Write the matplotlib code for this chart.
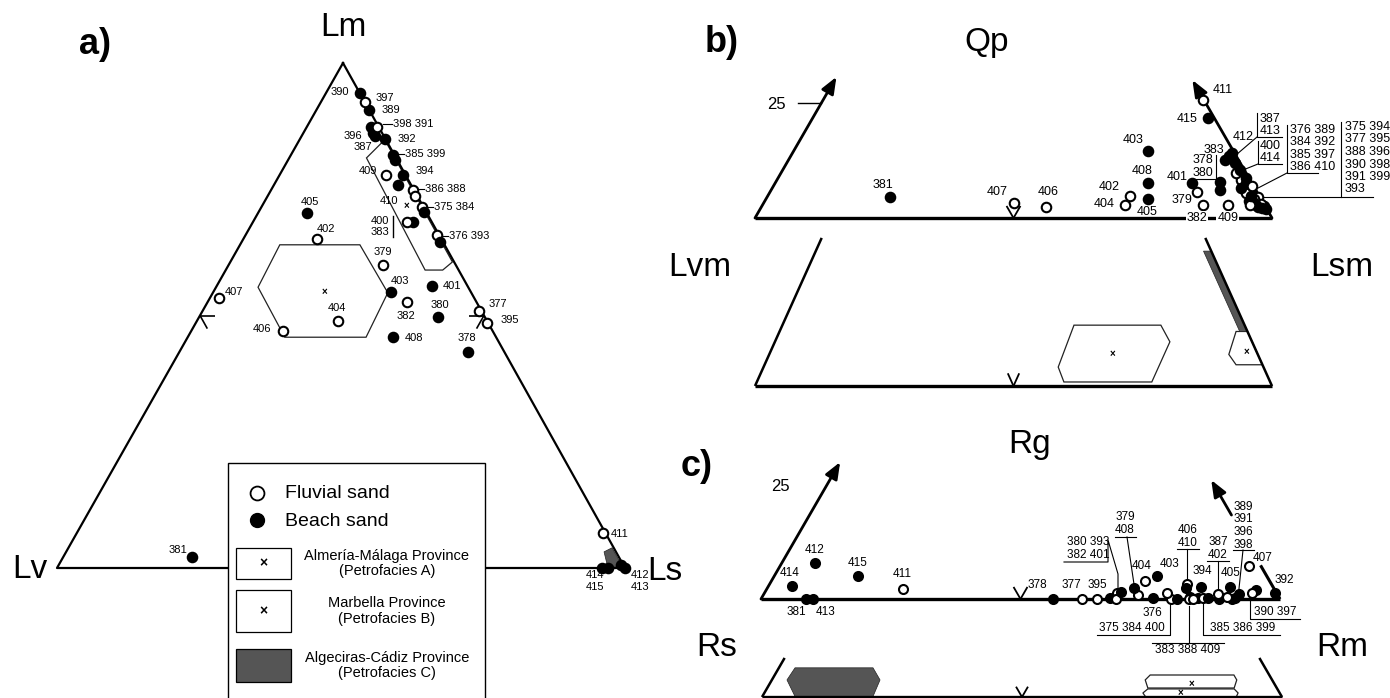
import matplotlib
matplotlib.use('Agg')
import numpy as np
import matplotlib.pyplot as plt
from matplotlib.patches import Polygon, Rectangle

plt.rcParams['font.family'] = ['Liberation Sans', 'DejaVu Sans']

# ---------------- data ----------------
samples = list(range(375, 416))
fluvial = [375, 376, 377, 379, 382, 386, 388, 395, 397, 398, 400, 402, 404, 406, 407, 409, 411]

# a) Lm-Lv-Ls  (percent Lm, percent Ls; Lv = rest)
a_lm = [71.5, 65.9, 50.9, 42.8, 60.0, 49.7, 2.2, 52.7, 68.5, 70.5, 81.8, 74.9, 85.5, 73.7,
        90.7, 94.1, 87.3, 85.0, 64.6, 77.8, 48.5, 86.1, 92.3, 87.3, 80.8, 68.5, 55.8, 65.1,
        54.7, 48.9, 70.3, 46.9, 53.5, 45.7, 77.8, 75.8, 6.9, 0.5, 0.0, 0.0, 0.0]
a_ls = [28.3, 33.7, 48.6, 50.8, 27.2, 42.1, 22.7, 35.1, 28.2, 29.1, 18.0, 25.0, 13.0, 25.9,
        9.2, 5.9, 11.4, 14.9, 34.9, 21.8, 51.3, 12.3, 7.7, 12.3, 18.8, 27.1, 37.9, 13.0,
        31.3, 24.8, 8.6, 16.2, 1.6, 36.1, 18.8, 21.8, 92.6, 99.0, 100.0, 96.0, 97.0]

# b) Qp-Lvm-Lsm  (percent Qp, percent Lsm; Lvm = rest)
b_qp = [4.6, 8.5, 4.2, 8.0, 5.8, 6.2, 4.7, 2.9, 13.0, 7.8, 6.2, 5.6, 12.2, 3.6,
        9.0, 2.6, 2.4, 6.8, 2.0, 3.8, 3.2, 3.0, 7.2, 2.8, 2.2, 10.0, 7.8, 4.9,
        15.0, 2.9, 4.2, 2.5, 3.3, 7.8, 2.9, 5.0, 26.3, 14.5, 13.8, 10.8, 22.3]
b_lsm = [95.0, 89.7, 94.5, 85.9, 82.6, 86.8, 23.8, 85.2, 84.5, 91.0, 92.8, 92.2, 86.8, 94.6,
         90.5, 97.1, 96.0, 90.7, 97.8, 93.6, 96.2, 95.4, 92.5, 94.4, 96.9, 88.0, 80.6, 70.0,
         68.5, 70.1, 73.9, 55.1, 48.4, 72.1, 90.0, 93.5, 73.5, 85.0, 84.7, 88.4, 76.4]

# c) Rg-Rs-Rm  (percent Rg, percent Rm; Rs = rest)
c_rg = [0.0, 0.9, 0.0, 0.0, 1.3, 0.2, 0.0, 0.0, 0.4, 0.0, 0.2, 0.2, 0.0, 0.0,
        0.2, 2.0, 0.0, 1.3, 1.6, 2.7, 0.0, 1.1, 1.3, 0.4, 0.2, 1.3, 0.2, 1.1,
        5.1, 4.0, 2.7, 3.3, 7.3, 2.4, 0.0, 2.4, 2.2, 8.0, 0.0, 2.9, 5.1]
c_rm = [79.0, 72.2, 61.8, 56.3, 67.9, 67.1, 8.7, 68.4, 82.5, 80.2, 84.1, 85.1, 88.2, 82.5,
        91.2, 94.4, 90.8, 98.3, 68.6, 83.5, 64.7, 91.5, 93.9, 89.6, 86.0, 77.5, 75.4, 87.5,
        73.7, 72.0, 89.1, 80.4, 90.3, 70.7, 83.2, 80.7, 26.3, 6.4, 10.0, 4.5, 16.1]

# province fields (top %, right %)
alm_a = ([55.6, 64.0, 64.0, 54.5, 45.7, 45.7], [7.4, 7.0, 21.1, 30.8, 31.4, 17.1])
alm_a_mean = (54.7, 19.5)
mar_a = ([81.2, 59.0, 59.0, 60.6, 84.8], [13.6, 35.1, 38.2, 39.1, 15.0])
mar_a_mean = (71.7, 25.5)
alg_a = ([3.2, 4.0, 0.4, 0.0], [94.7, 95.7, 99.3, 97.0])

alm_b = ([3.3, 10.6, 10.6, 7.7, 0.7, 0.7], [57.0, 56.4, 73.2, 76.4, 76.4, 59.4])
alm_b_mean = (5.6, 66.3)
mar_b = ([9.5, 9.5, 5.5, 3.7, 3.7], [90.5, 88.3, 88.9, 91.2, 96.3])
mar_b_mean = (6.0, 92.0)
alg_b = ([23.5, 23.5, 9.5, 9.5], [76.5, 75.0, 89.0, 90.5])

alg_c = ([3.8, 6.5, 6.5, 3.8, 0.0, 0.0], [2.9, 3.1, 18.1, 20.8, 21.3, 6.4])
alm_c = ([3.8, 4.9, 4.9, 3.8, 2.0, 2.0], [71.8, 72.2, 88.3, 89.4, 89.8, 73.2])
alm_c_mean = (2.9, 81.2)
mar_c = ([0.9, 1.8, 1.8, 0.9, 0.0, 0.0], [72.8, 73.3, 89.9, 91.1, 91.2, 73.8])
mar_c_mean = (0.9, 80.0)

# ---------------- geometry (pixels): left x, right x, apex x, base y, full height ----------------
GA = (57, 625, 343, 568, 505)
GB = (755, 1272, 1013.5, 218, 448)
GB2 = (755, 1272, 1013.5, 386, 574)
GC = (761, 1280, 1020.5, 599, 449)
GC2 = (762, 1282, 1022, 697, 449)


def tern(g, top, right):
    xl, xr, xa, y0, h = g
    t = np.asarray(top, float) / 100.0
    r = np.asarray(right, float) / 100.0
    return xl + (xr - xl) * r + (xa - xl) * t, y0 - h * t


fig = plt.figure(figsize=(13.9, 6.98), dpi=100)
ax = fig.add_axes([0, 0, 1, 1])
ax.set_xlim(0, 1390)
ax.set_ylim(698, 0)
ax.axis('off')

K = 'black'


def seg(g, t0, r0, t1, r1, lw=1.6):
    x, y = tern(g, [t0, t1], [r0, r1])
    ax.plot(x, y, color=K, lw=lw, solid_capstyle='butt', zorder=2)


def arrow(g, t0, r0, t1, r1, lw=2.0):
    x, y = tern(g, [t0, t1], [r0, r1])
    ax.annotate('', xy=(x[1], y[1]), xytext=(x[0], y[0]),
                arrowprops=dict(arrowstyle='-|>,head_length=1.0,head_width=0.4', lw=lw,
                                color=K, shrinkA=0, shrinkB=0), zorder=3)


def vtick(g, L=13):
    xl, xr, xa, y0, h = g
    mx = (xl + xr) / 2
    for dx in (xa - xr, xa - xl):
        n = np.hypot(dx, h)
        ax.plot([mx, mx + L * dx / n], [y0, y0 - L * h / n], color=K, lw=1.3, zorder=2)


def field(g, poly, fc='white', lw=0.9, mean=None):
    x, y = tern(g, poly[0], poly[1])
    ax.add_patch(Polygon(np.c_[x, y], closed=True, fc=fc, ec='#222222', lw=lw, zorder=1))
    if mean is not None:
        mx, my = tern(g, [mean[0]], [mean[1]])
        ax.text(mx[0], my[0], '×', fontsize=7, fontweight='bold', ha='center', va='center', zorder=1)


def points(g, top, right, ms=9.5, mew=1.5):
    x, y = tern(g, top, right)
    pos = {}
    for s, xi, yi in zip(samples, x, y):
        fc = 'white' if s in fluvial else K
        ax.plot(xi, yi, 'o', ms=ms * 0.72, mfc=fc, mec=K, mew=mew, zorder=5)
        pos[s] = (xi, yi)
    return pos


def labels(pos, items, fs, bg=False):
    for it in items:
        s, txt, dx, dy = it[:4]
        ha = it[4] if len(it) > 4 else 'center'
        px, py = pos[s]
        kw = {}
        if bg:
            kw['bbox'] = dict(fc='white', ec='none', pad=0.6)
        ax.text(px + dx, py + dy, txt, fontsize=fs, ha=ha, va='center', zorder=6, **kw)
        if ha == 'left':
            ax.plot([px + 6, px + dx - 1], [py + dy, py + dy], color=K, lw=0.8, zorder=4)


def line(xs, ys, lw=0.8):
    ax.plot(xs, ys, color=K, lw=lw, zorder=4)


# ================= panel a =================
xa, ya = tern(GA, [100, 0, 0, 100], [0, 0, 100, 0])
ax.plot(xa, ya, color=K, lw=1.6, zorder=2)
# 50 % ticks on the two sides, both starting on the side
for t0, r0, t1, r1, t2, r2 in [(50, 0, 50, 2.6, 47.4, 2.6), (50, 50, 50, 47.4, 47.4, 50)]:
    seg(GA, t0, r0, t1, r1, lw=1.2)
    seg(GA, t0, r0, t2, r2, lw=1.2)
field(GA, alm_a, mean=alm_a_mean)
field(GA, mar_a, mean=mar_a_mean)
field(GA, alg_a, fc='#555555', lw=0.5)
pa = points(GA, a_lm, a_ls)
labels(pa, [(390, '390', -20, -1), (397, '397', 20, -4), (389, '389', 22, 0), (398, '398 391', 16, -3, 'left'),
            (396, '396', -20, 3), (392, '392', 22, 0), (387, '387', -12, 11), (385, '385 399', 12, -1, 'left'),
            (394, '394', 21, -4), (409, '409', -18, -4), (386, '386 388', 12, -1, 'left'), (410, '410', -9, 16),
            (375, '375 384', 12, 0, 'left'), (400, '400', -27, -1), (383, '383', -33, 10),
            (376, '376 393', 12, 1, 'left'), (405, '405', 3, -11), (402, '402', 9, -10), (379, '379', 0, -13),
            (403, '403', 9, -11), (401, '401', 20, 0), (382, '382', -1, 14), (380, '380', 2, -12),
            (404, '404', -1, -13), (406, '406', -21, -2), (408, '408', 21, 1), (377, '377', 19, -7),
            (395, '395', 23, -3), (378, '378', -1, -14), (407, '407', 15, -6), (381, '381', -14, -7),
            (411, '411', 17, 1), (414, '414', -7, 7), (415, '415', -13, 19), (412, '412', 19, 10),
            (413, '413', 15, 19)], fs=8)
px, py = pa[400]
line([px - 14, px - 14], [py - 6, py + 15], lw=1.0)

ax.text(95, 45, 'a)', fontsize=26, fontweight='bold', ha='center', va='center')
ax.text(343, 28, 'Lm', fontsize=24, ha='center', va='center')
ax.text(30, 570, 'Lv', fontsize=24, ha='center', va='center')
ax.text(665, 572, 'Ls', fontsize=24, ha='center', va='center')

# legend
ax.add_patch(Rectangle((228, 463), 257, 240, fc='white', ec=K, lw=1.0, zorder=7))
ax.plot(257, 493, 'o', ms=10, mfc='white', mec=K, mew=1.3, zorder=8)
ax.plot(257, 520, 'o', ms=10, mfc=K, mec=K, zorder=8)
ax.text(285, 493, 'Fluvial sand', fontsize=14, va='center', zorder=8)
ax.text(285, 521, 'Beach sand', fontsize=14, va='center', zorder=8)
leg_items = [('Almería-Málaga Province\n(Petrofacies A)', 'white', 548, 31),
             ('Marbella Province\n(Petrofacies B)', 'white', 590, 42),
             ('Algeciras-Cádiz Province\n(Petrofacies C)', '#555555', 649, 33)]
for txt, fc, y0, hgt in leg_items:
    ax.add_patch(Rectangle((236, y0), 55, hgt, fc=fc, ec=K, lw=0.9, zorder=8))
    if fc == 'white':
        ax.text(263, y0 + hgt / 2, '×', fontsize=10, fontweight='bold', ha='center', va='center', zorder=9)
    ax.text(387, y0 + hgt / 2, txt, fontsize=10.5, ha='center', va='center', linespacing=1.1, zorder=9)

# ================= panel b =================
fs_b = 9
seg(GB, 0, 0, 0, 100, lw=2.4)
arrow(GB, 0, 0, 31.5, 0)
arrow(GB, 0, 100, 30.8, 69.2)
vtick(GB)
tx, ty = tern(GB, [25.6], [0])
line([tx[0] - 23, tx[0]], [ty[0], ty[0]], lw=1.0)
ax.text(tx[0] - 45, ty[0] + 1, '25', fontsize=12, ha='center', va='center')
pb = points(GB, b_qp, b_lsm)
labels(pb, [(381, '381', -7, -12), (407, '407', -17, -11), (406, '406', 2, -15), (402, '402', -20, -9),
            (404, '404', -21, -1), (403, '403', -15, -11), (408, '408', -6, -12), (405, '405', -1, 13),
            (411, '411', 20, -10), (415, '415', -21, 1), (412, '412', 11, -16), (383, '383', -12, -10),
            (401, '401', -15, -6), (379, '379', -15, 8)], fs=fs_b)
labels(pb, [(382, '382', -6, 13), (409, '409', 0, 13)], fs=fs_b, bg=True)
px, py = pb[378]
ax.text(px - 17, py - 22, '378', fontsize=fs_b, ha='center', va='center')
ax.text(px - 17, py - 9, '380', fontsize=fs_b, ha='center', va='center')
line([px - 4, px - 4, px - 30], [py - 27, py - 3, py - 3])
# right-hand sample lists
ax.text(1260, 119, '387', fontsize=fs_b, va='center')
ax.text(1260, 131, '413', fontsize=fs_b, va='center')
line([1257, 1257, 1282], [113, 137, 137])
line([1257, pb[412][0] + 4], [137, pb[412][1] + 2])
ax.text(1260, 146, '400', fontsize=fs_b, va='center')
ax.text(1260, 158, '414', fontsize=fs_b, va='center')
line([1258, 1258, 1282], [141, 164, 164])
line([1258, pb[414][0] + 4], [164, pb[414][1]])
for i, row in enumerate(['376 389', '384 392', '385 397', '386 410']):
    ax.text(1290, 130 + 12.3 * i, row, fontsize=fs_b, va='center')
line([1287, 1287, 1318], [125, 173, 173])
line([1287, pb[385][0] + 3], [173, pb[385][1]])
for i, row in enumerate(['375 394', '377 395', '388 396', '390 398', '391 399', '393']):
    ax.text(1345, 127 + 12.5 * i, row, fontsize=fs_b, va='center')
line([1341, 1341], [122, 197])
line([pb[399][0] + 2, 1373], [197, 197])

ax.text(722, 42, 'b)', fontsize=26, fontweight='bold', ha='center', va='center')
ax.text(987, 42, 'Qp', fontsize=24, ha='center', va='center')
ax.text(700, 268, 'Lvm', fontsize=24, ha='center', va='center')
ax.text(1342, 268, 'Lsm', fontsize=24, ha='center', va='center')

# lower part of b: province fields
seg(GB2, 0, 0, 0, 100, lw=2.4)
seg(GB2, 0, 0, 25.8, 0, lw=1.8)
seg(GB2, 0, 100, 25.8, 74.2, lw=1.8)
vtick(GB2)
field(GB2, alm_b, mean=alm_b_mean)
field(GB2, mar_b, mean=mar_b_mean)
field(GB2, alg_b, fc='#555555', lw=0.5)

# ================= panel c =================
fs_c = 8.5
seg(GC, 0, 0, 0, 100, lw=2.4)
arrow(GC, 0, 0, 30.5, 0)
seg(GC, 0, 100, 7.5, 92.5, lw=2.2)
arrow(GC, 18.7, 81.3, 26.5, 73.5)
vtick(GC)
tx, ty = tern(GC, [25], [0])
ax.text(tx[0] - 45, ty[0], '25', fontsize=12, ha='center', va='center')
pc = points(GC, c_rg, c_rm, ms=9)
labels(pc, [(378, '378', -16, -14), (377, '377', -10, -14), (395, '395', 1, -14), (414, '414', -2, -13),
            (412, '412', 0, -13), (415, '415', 0, -13), (411, '411', -1, -15), (381, '381', -10, 13),
            (413, '413', 13, 13), (404, '404', -3, -15), (403, '403', 13, -12), (394, '394', 1, -16),
            (405, '405', 0, -14), (407, '407', 14, -8), (392, '392', 10, -13), (376, '376', 14, 18)], fs=fs_c)
ax.text(1088, 542, '380 393', fontsize=fs_c, ha='center', va='center')
ax.text(1088, 555, '382 401', fontsize=fs_c, ha='center', va='center')
line([1064, 1108, 1108, 1118, 1118], [562, 562, 540, 574, 590])
ax.text(1125, 517, '379', fontsize=fs_c, ha='center', va='center')
ax.text(1125, 530, '408', fontsize=fs_c, ha='center', va='center')
line([1115, 1136], [537, 537])
line([1127, pc[408][0]], [537, pc[408][1] - 3])
ax.text(1188, 530, '406', fontsize=fs_c, ha='center', va='center')
ax.text(1188, 543, '410', fontsize=fs_c, ha='center', va='center')
line([1177, 1199], [549, 549])
line([1187, 1187], [549, pc[406][1] - 3])
ax.text(1218, 542, '387', fontsize=fs_c, ha='center', va='center')
ax.text(1218, 555, '402', fontsize=fs_c, ha='center', va='center')
line([1207, 1229], [561, 561])
line([1218, 1218], [561, pc[402][1] - 3])
for i, s in enumerate(['389', '391', '396', '398']):
    ax.text(1243, 507 + 12.5 * i, s, fontsize=fs_c, ha='center', va='center')
line([1233, 1254], [550, 550])
line([1243, pc[396][0]], [550, pc[396][1] - 3])
ax.text(1132, 628, '375 384 400', fontsize=fs_c, ha='center', va='center')
line([1097, 1170, 1170], [635, 635, 602])
ax.text(1188, 650, '383 388 409', fontsize=fs_c, ha='center', va='center')
line([1152, 1224], [643, 643])
line([1189, 1189], [643, 606])
ax.text(1243, 628, '385 386 399', fontsize=fs_c, ha='center', va='center')
line([1280, 1203, 1203], [635, 635, 602])
ax.text(1275, 612, '390 397', fontsize=fs_c, ha='center', va='center')
line([1300, 1250, 1250], [619, 619, 597])

ax.text(697, 466, 'c)', fontsize=26, fontweight='bold', ha='center', va='center')
ax.text(1030, 445, 'Rg', fontsize=24, ha='center', va='center')
ax.text(717, 647, 'Rs', fontsize=24, ha='center', va='center')
ax.text(1342, 647, 'Rm', fontsize=24, ha='center', va='center')

# lower part of c: province fields
seg(GC2, 0, 0, 0, 100, lw=2.4)
seg(GC2, 0, 0, 8.7, 0, lw=1.8)
seg(GC2, 0, 100, 8.7, 91.3, lw=1.8)
vtick(GC2, L=11)
field(GC2, alg_c, fc='#555555', lw=0.5)
field(GC2, alm_c, mean=alm_c_mean)
field(GC2, mar_c, mean=mar_c_mean)

fig.savefig('out.png', dpi=100)
